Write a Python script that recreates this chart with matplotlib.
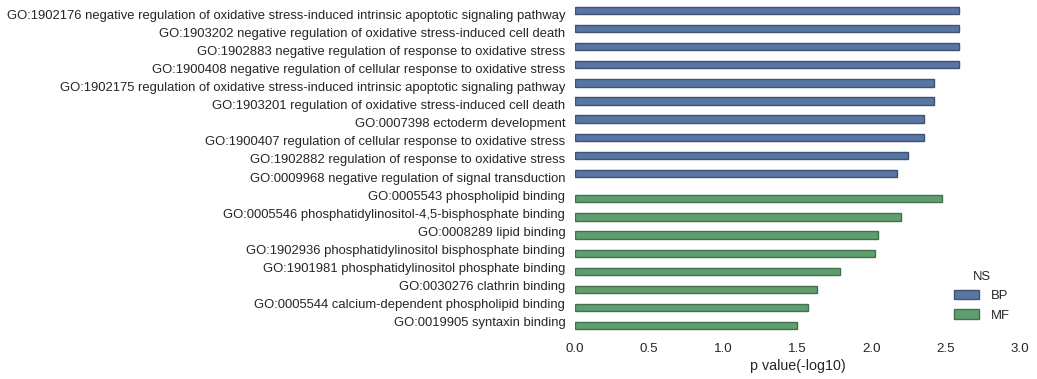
import numpy as np
import matplotlib
matplotlib.use("Agg")
import matplotlib.pyplot as plt
from matplotlib.patches import Patch

# GO terms, top to bottom
terms = [
    "GO:1902176 negative regulation of oxidative stress-induced intrinsic apoptotic signaling pathway",
    "GO:1903202 negative regulation of oxidative stress-induced cell death",
    "GO:1902883 negative regulation of response to oxidative stress",
    "GO:1900408 negative regulation of cellular response to oxidative stress",
    "GO:1902175 regulation of oxidative stress-induced intrinsic apoptotic signaling pathway",
    "GO:1903201 regulation of oxidative stress-induced cell death",
    "GO:0007398 ectoderm development",
    "GO:1900407 regulation of cellular response to oxidative stress",
    "GO:1902882 regulation of response to oxidative stress",
    "GO:0009968 negative regulation of signal transduction",
    "GO:0005543 phospholipid binding",
    "GO:0005546 phosphatidylinositol-4,5-bisphosphate binding",
    "GO:0008289 lipid binding",
    "GO:1902936 phosphatidylinositol bisphosphate binding",
    "GO:1901981 phosphatidylinositol phosphate binding",
    "GO:0030276 clathrin binding",
    "GO:0005544 calcium-dependent phospholipid binding",
    "GO:0019905 syntaxin binding",
]
ns = ["BP"] * 10 + ["MF"] * 8
pvals = [2.59, 2.59, 2.59, 2.59, 2.42, 2.42, 2.35, 2.35, 2.245, 2.17,
         2.475, 2.20, 2.043, 2.023, 1.787, 1.632, 1.571, 1.497]

groups = ["BP", "MF"]
# seaborn deep colours, desaturated to 0.75
colors = {"BP": "#5875A4", "MF": "#5F9E6E"}
edges = {"BP": "#3e5273", "MF": "#43704e"}

plt.rcParams["font.family"] = ["Liberation Sans", "DejaVu Sans"]

fig = plt.figure(figsize=(10.37, 3.79), dpi=100)
ax = fig.add_axes([0.5545, 0.1266, 0.4291, 0.8602])

# seaborn-like dodge: each hue takes half of a 0.8 wide slot
width = 0.4
offsets = {"BP": -0.2, "MF": 0.2}
y = np.arange(len(terms))
for g in groups:
    idx = [i for i, n in enumerate(ns) if n == g]
    ax.barh(y[idx] + offsets[g], [pvals[i] for i in idx], height=width,
            color=colors[g], edgecolor=edges[g], linewidth=1.0)

ax.set_yticks(y)
ax.set_yticklabels(terms, fontsize=9.4, color="#262626")
ax.set_ylim(len(terms) - 0.5, -0.5)
ax.set_xlim(0, 3.0)
ax.set_xticks(np.arange(0, 3.01, 0.5))
ax.tick_params(axis="x", labelsize=9.6, colors="#262626", length=0, pad=8.5)
ax.tick_params(axis="y", length=0, pad=7)
ax.set_xlabel("p value(-log10)", fontsize=10.3, color="#262626", labelpad=3)
for s in ax.spines.values():
    s.set_visible(False)

handles = [Patch(facecolor=colors[g], edgecolor=edges[g]) for g in groups]
leg = ax.legend(handles, groups, title="NS", loc="lower right", frameon=False,
                fontsize=9.4, title_fontsize=9.4, bbox_to_anchor=(1.004, -0.007),
                labelspacing=0.55, handlelength=1.9, handletextpad=0.9)
leg.get_title().set_color("#262626")
for t in leg.get_texts():
    t.set_color("#262626")

fig.savefig("out.png", dpi=100)
